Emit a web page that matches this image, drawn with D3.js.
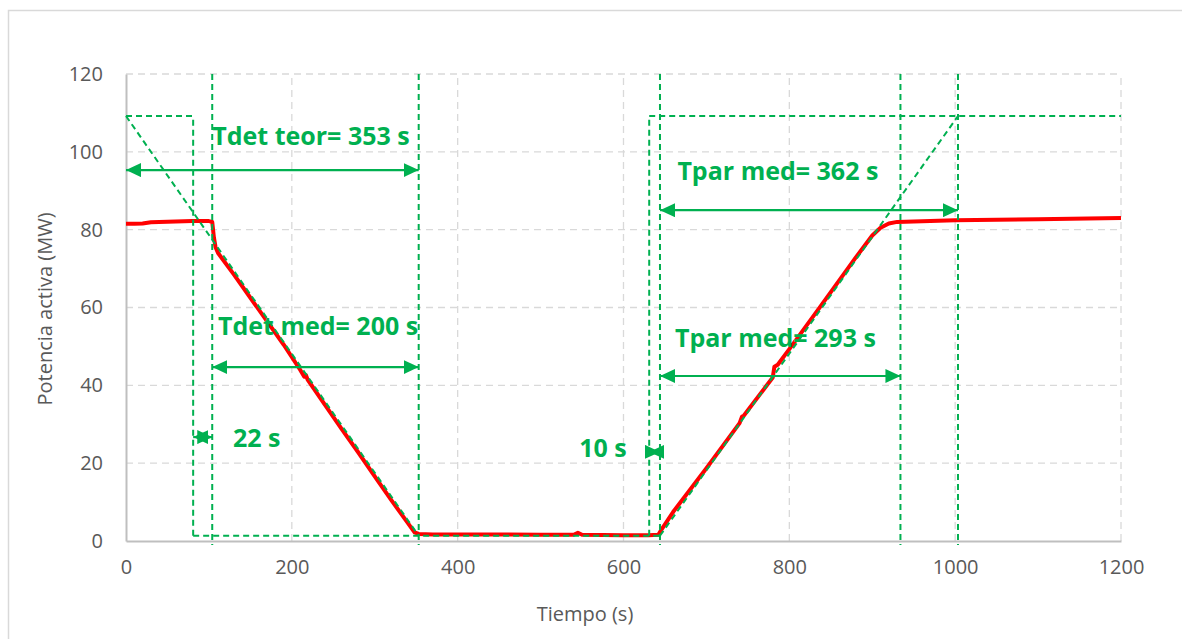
<!DOCTYPE html>
<html>
<head>
<meta charset="utf-8">
<script src="https://cdn.jsdelivr.net/npm/d3@7"></script>
<style>
	body { margin: 0; background: #fff; }
	svg { display: block; }
</style>
</head>
<body>
<svg id="chart" width="1182" height="639"></svg>
<script>
// measured active power (t in s, MW)
var tiempo = [0, 10, 20, 30, 40, 60, 80, 100, 104, 106, 108, 111, 130, 150, 170, 190, 210, 215, 217, 219, 240, 260, 280, 300, 320, 340, 348, 353, 370, 400, 450, 500, 540, 545, 550, 600, 630, 642, 646, 660, 700, 740, 743, 745, 780, 782, 786, 800, 840, 880, 900, 910, 920, 930, 1000, 1100, 1200];
var potencia = [81.5, 81.5, 81.6, 81.9, 82, 82.1, 82.2, 82.2, 82, 78, 75.5, 74, 68.5, 62.5, 56.5, 50.5, 44, 42.2, 42.6, 41.5, 35, 28.8, 22.8, 16.6, 10.5, 4.6, 2.2, 1.8, 1.7, 1.7, 1.7, 1.6, 1.6, 2.1, 1.6, 1.5, 1.5, 1.6, 3, 7.5, 18.7, 30.3, 32, 32.2, 42, 44.8, 45.3, 49.3, 61, 72.8, 78.5, 80.5, 81.6, 82, 82.4, 82.7, 83];

var xTicks = [0, 200, 400, 600, 800, 1000, 1200];
var yTicks = [0, 20, 40, 60, 80, 100, 120];

// green guide lines (dashed), in data units
var guideFull = [104, 353, 644, 934, 1003.4];
var guideSegs = [
	[[81, 1.35], [81, 109.2]],
	[[631, 1.35], [631, 109.2]],
	[[0, 109.2], [81, 109.2]],
	[[631, 109.2], [1200, 109.2]],
	[[81, 1.35], [644, 1.35]],
	[[0, 109.2], [353, 1.35]],
	[[644, 1.35], [1003.4, 109.2]]
];

// double arrows: from, to, level
var arrowFrom = [0, 104, 81, 644, 644, 631];
var arrowTo = [353, 353, 104, 1003.4, 934, 644];
var arrowAt = [95.3, 44.7, 26.7, 85, 42.4, 22.9];

var labelText = ['Tdet teor= 353 s', 'Tdet med= 200 s', '22 s', 'Tpar med= 362 s', 'Tpar med= 293 s', '10 s'];
var labelX = [104, 111, 129, 665, 662, 546.5];
var labelY = [101.7, 52.9, 24.2, 92.8, 49.8, 21.6];

var green = '#00b050';
var svg = d3.select('#chart');

var x = d3.scaleLinear().domain([0, 1200]).range([126, 1121]);
var y = d3.scaleLinear().domain([0, 120]).range([541, 74]);

// outer chart border
svg.append('rect')
	.attr('x', 8.5).attr('y', 10.5)
	.attr('width', 1200).attr('height', 700)
	.attr('fill', 'none')
	.attr('stroke', '#d9d9d9')
	.attr('stroke-width', 1.5);

// grid
var grid = svg.append('g');
grid.selectAll('.hgrid')
	.data(yTicks.slice(1)).enter()
	.append('line')
	.attr('x1', x(0)).attr('x2', x(1200))
	.attr('y1', function(d) { return y(d); })
	.attr('y2', function(d) { return y(d); });
grid.selectAll('.vgrid')
	.data(xTicks.slice(1)).enter()
	.append('line')
	.attr('y1', y(0)).attr('y2', y(120))
	.attr('x1', function(d) { return x(d); })
	.attr('x2', function(d) { return x(d); });
grid.selectAll('line')
	.attr('stroke', '#d9d9d9')
	.attr('stroke-width', 1.3)
	.attr('stroke-dasharray', '7,5');

// axes
var xAxis = svg.append('g')
	.attr('transform', 'translate(0,' + y(0) + ')')
	.call(d3.axisBottom(x).tickValues(xTicks).tickFormat(d3.format('d')).tickSize(0).tickPadding(19));
var yAxis = svg.append('g')
	.attr('transform', 'translate(' + x(0) + ',0)')
	.call(d3.axisLeft(y).tickValues(yTicks).tickSize(0).tickPadding(23));
[xAxis, yAxis].forEach(function(a) {
	a.select('.domain').attr('stroke', '#bfbfbf').attr('stroke-width', 2);
	a.selectAll('text')
		.attr('fill', '#595959')
		.style('font-family', 'Open Sans, sans-serif')
		.style('font-size', '20px');
});
xAxis.selectAll('text').attr('dy', '0.71em');

// axis titles
svg.append('text')
	.attr('x', 585).attr('y', 621)
	.attr('text-anchor', 'middle')
	.attr('fill', '#595959')
	.style('font-family', 'Open Sans, sans-serif')
	.style('font-size', '20px')
	.text('Tiempo (s)');
svg.append('text')
	.attr('transform', 'translate(52,309) rotate(-90)')
	.attr('text-anchor', 'middle')
	.attr('fill', '#595959')
	.style('font-family', 'Open Sans, sans-serif')
	.style('font-size', '20px')
	.text('Potencia activa  (MW)');

// measured curve
var line = d3.line()
	.x(function(d, i) { return x(tiempo[i]); })
	.y(function(d) { return y(d); });
svg.append('path')
	.datum(potencia)
	.attr('d', line)
	.attr('fill', 'none')
	.attr('stroke', '#ff0000')
	.attr('stroke-width', 4)
	.attr('stroke-linejoin', 'round');

// green dashed guides
var guides = svg.append('g')
	.attr('stroke', green)
	.attr('stroke-width', 2)
	.attr('stroke-dasharray', '6,4')
	.attr('fill', 'none');
guides.selectAll('.full')
	.data(guideFull).enter()
	.append('line')
	.attr('x1', function(d) { return x(d); })
	.attr('x2', function(d) { return x(d); })
	.attr('y1', y(120)).attr('y2', y(0) + 4);
guides.selectAll('.seg')
	.data(guideSegs).enter()
	.append('path')
	.attr('d', d3.line()
		.x(function(d) { return x(d[0]); })
		.y(function(d) { return y(d[1]); }));

// arrow heads
svg.append('defs').append('marker')
	.attr('id', 'head')
	.attr('viewBox', '0 0 15 14')
	.attr('refX', 15).attr('refY', 7)
	.attr('markerWidth', 15).attr('markerHeight', 14)
	.attr('markerUnits', 'userSpaceOnUse')
	.attr('orient', 'auto-start-reverse')
	.append('path')
	.attr('d', 'M0,0 L15,7 L0,14 Z')
	.attr('fill', green);

svg.append('g').selectAll('line')
	.data(arrowFrom).enter()
	.append('line')
	.attr('x1', function(d) { return x(d); })
	.attr('x2', function(d, i) { return x(arrowTo[i]); })
	.attr('y1', function(d, i) { return y(arrowAt[i]); })
	.attr('y2', function(d, i) { return y(arrowAt[i]); })
	.attr('stroke', green)
	.attr('stroke-width', 2.2)
	.attr('marker-start', 'url(#head)')
	.attr('marker-end', 'url(#head)');

// labels
svg.append('g').selectAll('text')
	.data(labelText).enter()
	.append('text')
	.attr('x', function(d, i) { return x(labelX[i]); })
	.attr('y', function(d, i) { return y(labelY[i]); })
	.attr('fill', green)
	.style('font-family', 'Open Sans, sans-serif')
	.style('font-weight', 'bold')
	.style('font-size', '25px')
	.text(function(d) { return d; });
</script>
</body>
</html>
